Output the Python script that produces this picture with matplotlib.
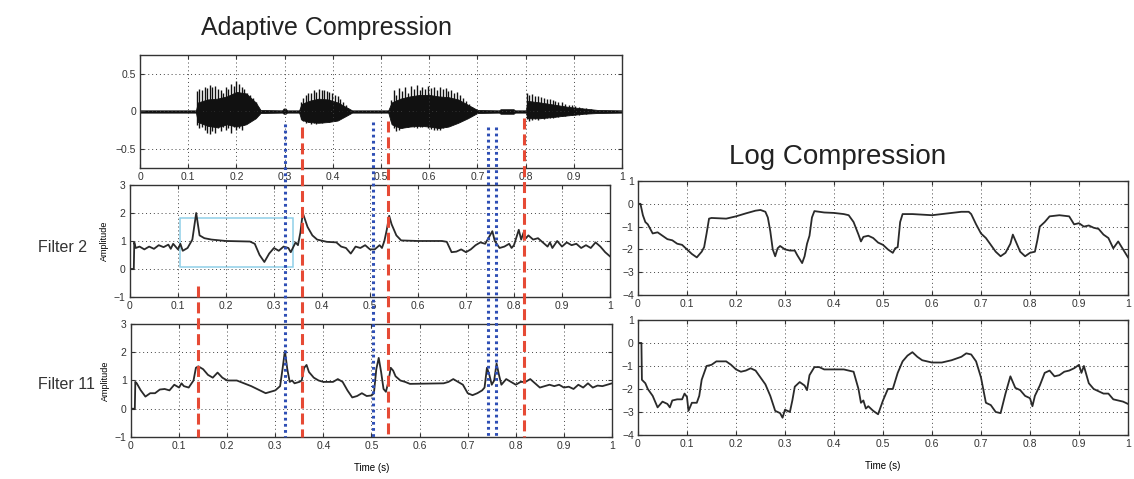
import numpy as np
import matplotlib as mpl
mpl.use('Agg')
import matplotlib.pyplot as plt
from matplotlib.lines import Line2D
from matplotlib.patches import Rectangle

plt.rcParams['font.family'] = ['Liberation Sans', 'DejaVu Sans']

# ---------------- data ----------------
xticks = [0, 0.1, 0.2, 0.3, 0.4, 0.5, 0.6, 0.7, 0.8, 0.9, 1]
xlabels = ['0', '0.1', '0.2', '0.3', '0.4', '0.5', '0.6', '0.7', '0.8', '0.9', '1']

# speech waveform: dense core envelope
core_t = [0.0, 0.116, 0.12, 0.14, 0.16, 0.18, 0.20, 0.22, 0.24, 0.25, 0.295, 0.298, 0.302, 0.305,
          0.33, 0.335, 0.35, 0.37, 0.39, 0.41, 0.43, 0.44, 0.515, 0.522, 0.54, 0.56, 0.58, 0.60,
          0.62, 0.64, 0.66, 0.68, 0.70, 0.745, 0.748, 0.775, 0.778, 0.80, 0.805, 0.83, 0.86,
          0.89, 0.92, 0.95, 1.0]
core_hi = [0.015, 0.015, 0.12, 0.16, 0.17, 0.20, 0.26, 0.24, 0.12, 0.02, 0.015, 0.04, 0.04, 0.015,
           0.015, 0.10, 0.14, 0.17, 0.16, 0.12, 0.05, 0.015, 0.015, 0.12, 0.17, 0.20, 0.22, 0.22,
           0.20, 0.19, 0.16, 0.09, 0.02, 0.015, 0.03, 0.03, 0.015, 0.015, 0.14, 0.12, 0.09,
           0.06, 0.04, 0.02, 0.015]
core_lo = [-0.015, -0.015, -0.14, -0.19, -0.21, -0.17, -0.20, -0.17, -0.09, -0.02, -0.015, -0.03,
           -0.03, -0.015, -0.015, -0.11, -0.14, -0.15, -0.14, -0.12, -0.05, -0.015, -0.015, -0.17,
           -0.22, -0.20, -0.19, -0.20, -0.22, -0.20, -0.15, -0.09, -0.02, -0.015, -0.03, -0.03,
           -0.015, -0.015, -0.09, -0.09, -0.07, -0.05, -0.03, -0.02, -0.015]

# speech waveform: pitch pulses
spike_t = [0.118, 0.123, 0.128, 0.134, 0.139, 0.145, 0.150, 0.156, 0.161, 0.167, 0.172, 0.178,
           0.183, 0.189, 0.194, 0.200, 0.205, 0.211, 0.216, 0.222, 0.228, 0.234, 0.240, 0.245,
           0.333, 0.338, 0.344, 0.349, 0.355, 0.360, 0.366, 0.371, 0.377, 0.382, 0.388, 0.393,
           0.399, 0.404, 0.410, 0.415, 0.421, 0.427, 0.432,
           0.520, 0.526, 0.532, 0.538, 0.544, 0.550, 0.556, 0.562, 0.568, 0.574, 0.580, 0.586,
           0.592, 0.598, 0.604, 0.610, 0.616, 0.622, 0.628, 0.634, 0.640, 0.646, 0.652, 0.658,
           0.664, 0.670, 0.676, 0.682, 0.688, 0.694,
           0.802, 0.808, 0.814, 0.820, 0.826, 0.832, 0.838, 0.844, 0.850, 0.856, 0.862, 0.868,
           0.875, 0.882, 0.889, 0.896, 0.903, 0.910, 0.918, 0.926, 0.935]
spike_hi = [0.27, 0.30, 0.28, 0.33, 0.31, 0.35, 0.33, 0.34, 0.30, 0.28, 0.25, 0.33,
            0.30, 0.36, 0.34, 0.40, 0.37, 0.33, 0.30, 0.25, 0.22, 0.18, 0.12, 0.06,
            0.12, 0.18, 0.22, 0.25, 0.24, 0.28, 0.26, 0.30, 0.28, 0.29, 0.27, 0.26,
            0.24, 0.22, 0.20, 0.17, 0.13, 0.08, 0.04,
            0.15, 0.28, 0.22, 0.31, 0.27, 0.33, 0.25, 0.34, 0.30, 0.35, 0.28, 0.33,
            0.30, 0.34, 0.31, 0.33, 0.28, 0.32, 0.30, 0.31, 0.27, 0.29, 0.25, 0.26,
            0.22, 0.18, 0.14, 0.10, 0.06, 0.03,
            0.25, 0.22, 0.23, 0.20, 0.21, 0.19, 0.18, 0.17, 0.16, 0.15, 0.14, 0.13,
            0.12, 0.10, 0.09, 0.08, 0.07, 0.06, 0.05, 0.04, 0.03]
spike_lo = [-0.18, -0.22, -0.20, -0.25, -0.28, -0.30, -0.26, -0.28, -0.22, -0.26, -0.20, -0.24,
            -0.22, -0.28, -0.20, -0.25, -0.22, -0.24, -0.18, -0.15, -0.12, -0.10, -0.07, -0.04,
            -0.10, -0.13, -0.15, -0.14, -0.16, -0.15, -0.16, -0.14, -0.15, -0.14, -0.13, -0.14,
            -0.12, -0.12, -0.10, -0.09, -0.07, -0.05, -0.03,
            -0.12, -0.22, -0.26, -0.24, -0.22, -0.20, -0.21, -0.19, -0.20, -0.22, -0.20, -0.21,
            -0.19, -0.22, -0.23, -0.25, -0.24, -0.25, -0.22, -0.20, -0.18, -0.17, -0.15, -0.13,
            -0.12, -0.10, -0.08, -0.06, -0.04, -0.02,
            -0.10, -0.12, -0.11, -0.10, -0.11, -0.09, -0.10, -0.09, -0.08, -0.08, -0.07, -0.07,
            -0.06, -0.06, -0.05, -0.05, -0.04, -0.04, -0.03, -0.03, -0.02]

# adaptive compression, filter 2
f2_t = [0, 0.008, 0.009, 0.012, 0.02, 0.03, 0.04, 0.05, 0.06, 0.07,
        0.08, 0.085, 0.09, 0.1, 0.105, 0.11, 0.12, 0.13, 0.138, 0.145,
        0.155, 0.17, 0.2, 0.25, 0.26, 0.27, 0.28, 0.29, 0.30, 0.31,
        0.32, 0.33, 0.335, 0.345, 0.35, 0.355, 0.36, 0.37, 0.38, 0.39,
        0.41, 0.43, 0.44, 0.45, 0.46, 0.47, 0.48, 0.49, 0.5, 0.51,
        0.52, 0.525, 0.53, 0.535, 0.54, 0.545, 0.555, 0.565, 0.6, 0.65,
        0.66, 0.67, 0.68, 0.69, 0.70, 0.71, 0.72, 0.73, 0.74, 0.75,
        0.755, 0.76, 0.77, 0.78, 0.79, 0.795, 0.8, 0.81, 0.815, 0.82,
        0.825, 0.83, 0.84, 0.85, 0.86, 0.87, 0.875, 0.88, 0.89, 0.9,
        0.91, 0.92, 0.93, 0.94, 0.95, 0.96, 0.97, 0.98, 0.99, 1.0]
f2_y = [0, 0, 0.95, 0.75, 0.8, 0.7, 0.8, 0.72, 0.85, 0.78,
        0.87, 0.72, 0.9, 0.7, 0.9, 0.65, 0.75, 1.05, 2.0, 1.2,
        1.1, 1.05, 1.0, 0.98, 0.9, 0.5, 0.25, 0.55, 0.75, 0.65,
        0.8, 0.75, 0.6, 0.95, 0.85, 1.3, 2.0, 1.5, 1.2, 1.05,
        0.97, 0.95, 0.8, 0.75, 0.55, 0.8, 0.75, 0.85, 0.7, 0.7,
        0.85, 0.75, 1.0, 1.4, 1.9, 1.6, 1.2, 1.02, 1.0, 1.0,
        0.97, 0.6, 0.62, 0.7, 0.6, 0.7, 0.85, 0.95, 0.9, 1.2,
        1.35, 1.0, 0.75, 0.8, 0.9, 0.75, 0.85, 1.4, 1.05, 1.3,
        1.1, 1.2, 1.05, 1.1, 0.95, 0.8, 0.95, 0.75, 1.0, 0.8,
        0.95, 0.85, 0.9, 0.75, 0.85, 0.75, 0.95, 0.8, 0.6, 0.45]

# adaptive compression, filter 11
f11_t = [0, 0.008, 0.009, 0.012, 0.02, 0.03, 0.04, 0.05, 0.06, 0.07,
         0.08, 0.09, 0.1, 0.105, 0.11, 0.12, 0.13, 0.135, 0.14, 0.15,
         0.16, 0.17, 0.18, 0.19, 0.2, 0.22, 0.25, 0.28, 0.29, 0.3,
         0.31, 0.315, 0.32, 0.325, 0.33, 0.335, 0.34, 0.35, 0.355, 0.36,
         0.365, 0.37, 0.38, 0.39, 0.4, 0.42, 0.43, 0.44, 0.45, 0.46,
         0.47, 0.48, 0.49, 0.5, 0.505, 0.51, 0.515, 0.52, 0.525, 0.53,
         0.535, 0.54, 0.545, 0.55, 0.56, 0.57, 0.58, 0.65, 0.66, 0.67,
         0.68, 0.69, 0.7, 0.71, 0.72, 0.73, 0.735, 0.74, 0.745, 0.75,
         0.755, 0.76, 0.765, 0.77, 0.78, 0.79, 0.8, 0.81, 0.82, 0.83,
         0.84, 0.85, 0.86, 0.87, 0.88, 0.89, 0.9, 0.91, 0.92, 0.93,
         0.94, 0.95, 0.96, 0.97, 0.98, 0.99, 1.0]
f11_y = [0, 0, 0.95, 0.9, 0.66, 0.43, 0.55, 0.55, 0.68, 0.7,
         0.65, 0.85, 0.75, 0.9, 0.8, 0.75, 1.0, 1.45, 1.5, 1.4,
         1.2, 1.1, 1.28, 1.1, 1.0, 1.0, 0.8, 0.55, 0.6, 0.65,
         0.8, 1.4, 2.05, 1.4, 0.95, 1.0, 0.9, 0.95, 1.0, 1.45,
         1.55, 1.3, 1.1, 1.0, 0.95, 0.95, 1.05, 0.95, 0.65, 0.4,
         0.45, 0.55, 0.45, 0.47, 0.55, 1.4, 1.8, 1.3, 0.7, 0.6,
         0.95, 1.45, 1.35, 1.15, 1.0, 0.95, 0.88, 0.9, 0.95, 1.05,
         0.95, 0.85, 0.55, 0.48, 0.55, 0.65, 0.75, 1.45, 1.2, 0.85,
         1.0, 1.6, 1.2, 0.85, 1.05, 0.95, 0.85, 0.95, 0.95, 1.05,
         0.9, 0.75, 0.8, 0.85, 0.8, 0.85, 0.75, 0.78, 0.7, 0.85,
         0.75, 0.9, 0.75, 0.82, 0.8, 0.85, 0.9]

# log compression, filter 2
logA_t = [0, 0.005, 0.01, 0.015, 0.02, 0.03, 0.04, 0.05, 0.06, 0.07,
          0.08, 0.09, 0.1, 0.11, 0.12, 0.13, 0.135, 0.14, 0.145, 0.15,
          0.18, 0.2, 0.22, 0.24, 0.25, 0.26, 0.265, 0.27, 0.275, 0.28,
          0.285, 0.29, 0.3, 0.31, 0.32, 0.325, 0.335, 0.34, 0.345, 0.35,
          0.355, 0.36, 0.38, 0.4, 0.42, 0.43, 0.44, 0.45, 0.455, 0.46,
          0.47, 0.48, 0.49, 0.5, 0.51, 0.52, 0.525, 0.53, 0.535, 0.54,
          0.56, 0.6, 0.62, 0.64, 0.66, 0.675, 0.68, 0.69, 0.7, 0.71,
          0.72, 0.73, 0.74, 0.75, 0.76, 0.765, 0.77, 0.78, 0.79, 0.8,
          0.81, 0.815, 0.82, 0.83, 0.84, 0.86, 0.88, 0.89, 0.9, 0.91,
          0.92, 0.93, 0.94, 0.95, 0.96, 0.97, 0.98, 0.99, 1.0]
logA_y = [0, 0, -0.5, -0.8, -0.9, -1.3, -1.25, -1.4, -1.55, -1.6,
          -1.75, -1.8, -2.0, -2.2, -2.35, -2.1, -1.9, -1.3, -0.65, -0.62,
          -0.65, -0.55, -0.42, -0.3, -0.27, -0.35, -0.6, -1.2, -2.0, -2.3,
          -1.95, -1.85, -2.0, -2.05, -2.05, -2.25, -2.6, -2.3, -1.75, -1.4,
          -0.6, -0.32, -0.38, -0.4, -0.45, -0.5, -0.8, -1.35, -1.65, -1.45,
          -1.4, -1.5, -1.7, -1.8, -2.0, -2.15, -1.95, -1.9, -0.8, -0.45,
          -0.45, -0.5, -0.45, -0.4, -0.35, -0.35, -0.45, -0.9, -1.3, -1.5,
          -1.8, -2.1, -2.3, -2.15, -1.75, -1.35, -1.6, -2.1, -2.3, -2.15,
          -2.1, -1.6, -1.0, -0.8, -0.55, -0.5, -0.55, -0.9, -0.85, -1.0,
          -0.95, -1.05, -1.1, -1.35, -1.5, -1.95, -1.65, -2.0, -2.35]

# log compression, filter 11
logB_t = [0, 0.007, 0.008, 0.015, 0.02, 0.03, 0.04, 0.05, 0.06, 0.065,
          0.07, 0.08, 0.09, 0.095, 0.1, 0.103, 0.11, 0.12, 0.125, 0.13,
          0.14, 0.15, 0.16, 0.18, 0.19, 0.2, 0.21, 0.22, 0.23, 0.24,
          0.25, 0.26, 0.27, 0.28, 0.29, 0.295, 0.3, 0.31, 0.315, 0.32,
          0.33, 0.34, 0.345, 0.35, 0.36, 0.37, 0.38, 0.4, 0.42, 0.44,
          0.45, 0.455, 0.46, 0.465, 0.47, 0.48, 0.49, 0.5, 0.51, 0.52,
          0.53, 0.54, 0.55, 0.56, 0.57, 0.58, 0.6, 0.62, 0.64, 0.66,
          0.67, 0.68, 0.69, 0.7, 0.71, 0.72, 0.73, 0.74, 0.75, 0.76,
          0.77, 0.78, 0.79, 0.8, 0.805, 0.81, 0.82, 0.83, 0.84, 0.85,
          0.86, 0.87, 0.88, 0.89, 0.9, 0.905, 0.91, 0.92, 0.93, 0.94,
          0.95, 0.96, 0.97, 0.98, 0.99, 1.0]
logB_y = [0, 0, -1.6, -1.75, -2.0, -2.3, -2.8, -2.55, -2.65, -2.8,
          -2.5, -2.45, -2.45, -2.2, -2.35, -2.95, -2.6, -2.6, -2.3, -1.6,
          -1.0, -0.95, -0.8, -0.8, -0.95, -1.15, -1.25, -1.2, -1.1, -1.2,
          -1.5, -1.8, -2.3, -2.95, -3.05, -3.25, -2.9, -3.0, -2.5, -1.9,
          -1.7, -1.85, -2.05, -1.4, -1.05, -1.05, -1.15, -1.15, -1.15, -1.25,
          -2.0, -2.6, -2.5, -2.85, -2.75, -2.95, -3.1, -2.5, -2.0, -2.0,
          -1.3, -0.8, -0.55, -0.4, -0.6, -0.75, -0.85, -0.85, -0.75, -0.6,
          -0.45, -0.5, -0.8, -1.5, -2.6, -2.7, -3.0, -3.05, -2.2, -1.45,
          -1.95, -2.05, -2.3, -2.4, -2.75, -2.3, -1.85, -1.3, -1.2, -1.45,
          -1.4, -1.25, -1.2, -1.1, -0.95, -1.3, -1.0, -1.75, -2.0, -2.1,
          -2.2, -2.2, -2.45, -2.5, -2.55, -2.65]

# event markers (time, upper end in waveform units)
red_t = [0.14, 0.356, 0.535, 0.816]
red_top = [-2.32, -0.2, -0.12, -0.08]
blue_t = [0.32, 0.503, 0.742, 0.759]
blue_top = [-0.16, -0.14, -0.21, -0.21]

box_x = [0.105, 0.34]
box_y = [0.07, 1.82]

# ---------------- figure ----------------
fig = plt.figure(figsize=(11.34, 4.79), dpi=100)

ax_w = fig.add_axes([0.1235, 0.6493, 0.425, 0.2359])
ax_f2 = fig.add_axes([0.1146, 0.380, 0.4233, 0.2338])
ax_f11 = fig.add_axes([0.1155, 0.0877, 0.4242, 0.2359])
ax_la = fig.add_axes([0.5626, 0.3841, 0.4321, 0.2380])
ax_lb = fig.add_axes([0.5626, 0.0919, 0.4321, 0.2401])

MINUS = '\u2212'


def style(ax, ylim, yticks, ylabels):
    ax.set_xlim(0, 1)
    ax.set_ylim(*ylim)
    ax.set_xticks(xticks)
    ax.set_xticklabels(xlabels)
    ax.set_yticks(yticks)
    ax.set_yticklabels(ylabels)
    ax.grid(True, ls=(0, (1, 3)), color='#444444', lw=0.7)
    ax.tick_params(direction='in', top=True, right=True, length=3, width=0.8,
                   labelsize=7.5, pad=3, colors='#333333')
    for s in ax.spines.values():
        s.set_color('#333333')
        s.set_linewidth(1.0)


lab4 = [MINUS + '1', '0', '1', '2', '3']
lab5 = [MINUS + '4', MINUS + '3', MINUS + '2', MINUS + '1', '0', '1']

style(ax_w, (-0.75, 0.75), [-0.5, 0, 0.5], [MINUS + '0.5', '0', '0.5'])
style(ax_f2, (-1, 3), [-1, 0, 1, 2, 3], lab4)
style(ax_f11, (-1, 3), [-1, 0, 1, 2, 3], lab4)
style(ax_la, (-4, 1), [-4, -3, -2, -1, 0, 1], lab5)
style(ax_lb, (-4, 1), [-4, -3, -2, -1, 0, 1], lab5)

# waveform
ax_w.fill_between(core_t, core_lo, core_hi, color='#111111', lw=0.6)
ax_w.vlines(spike_t, spike_lo, spike_hi, color='#111111', lw=1.0)

line_kw = dict(color='#2a2a2a', lw=1.3)
ax_f2.plot(f2_t, f2_y, **line_kw)
ax_f11.plot(f11_t, f11_y, **line_kw)
ax_la.plot(logA_t, logA_y, **line_kw)
ax_lb.plot(logB_t, logB_y, **line_kw)

ax_f2.add_patch(Rectangle((box_x[0], box_y[0]), box_x[1] - box_x[0], box_y[1] - box_y[0],
                          fill=False, ec='#8fd0e8', lw=1.1))

for ax in (ax_f2, ax_f11):
    ax.set_ylabel('Amplitude', fontsize=6.5)
    ax.yaxis.set_label_coords(-0.043, 0.5)
for ax in (ax_f11, ax_lb):
    ax.set_xlabel('Time (s)', fontsize=7)
    ax.xaxis.set_label_coords(0.5, -0.23)

# event markers drawn across the stacked panels
to_fig = fig.transFigure.inverted()


def fpt(ax, x, y):
    return to_fig.transform(ax.transData.transform((x, y)))


for times, tops, col, ls in ((red_t, red_top, '#e64a35', (0, (3.6, 1.6))),
                            (blue_t, blue_top, '#2f4fb5', (0, (0.9, 1.1)))):
    for t, top in zip(times, tops):
        x0, y_bot = fpt(ax_f11, t, -1)
        _, y_top = fpt(ax_w, 0, top)
        fig.add_artist(Line2D([x0, x0], [y_top, y_bot], transform=fig.transFigure,
                              color=col, ls=ls, lw=2.2, zorder=5))

fig.text(0.2875, 0.9415, 'Adaptive Compression', fontsize=18, ha='center', va='center', color='#222222')
fig.text(0.739, 0.672, 'Log Compression', fontsize=20, ha='center', va='center', color='#222222')
fig.text(0.0335, 0.484, 'Filter 2', fontsize=11.5, ha='left', va='center', color='#333333')
fig.text(0.0335, 0.198, 'Filter 11', fontsize=11.5, ha='left', va='center', color='#333333')

fig.savefig('out.png', dpi=100)
